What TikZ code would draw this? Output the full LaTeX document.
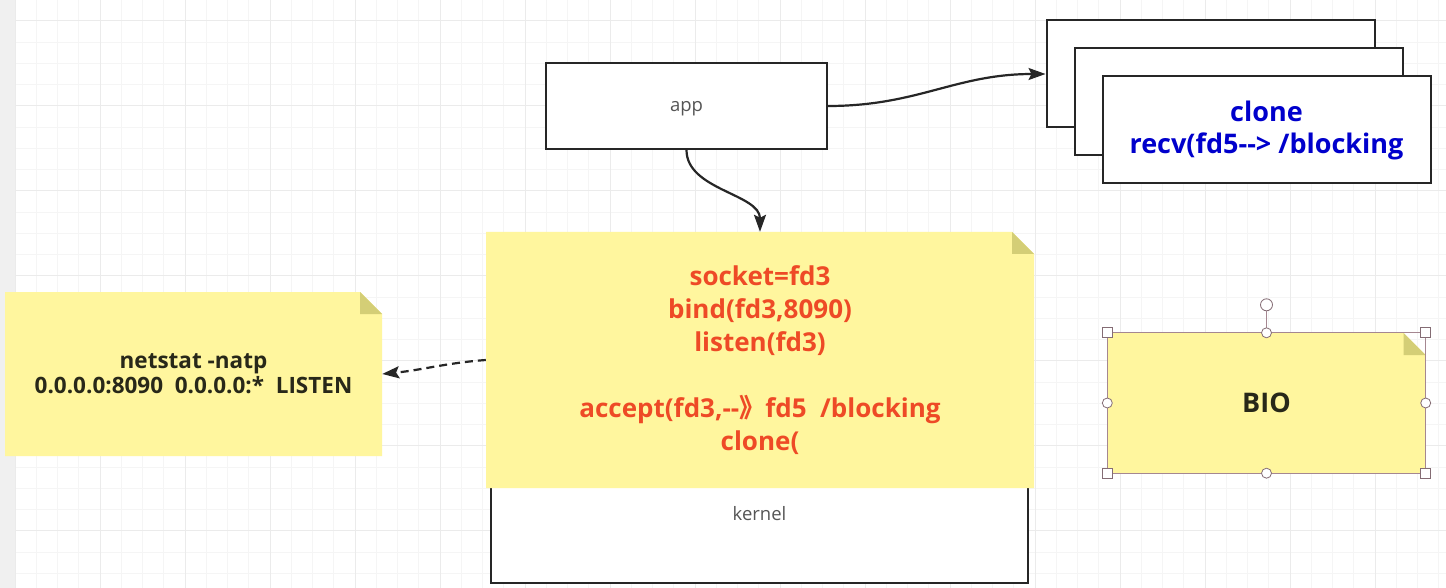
\documentclass[tikz,border=0pt]{standalone}
\usepackage{fontspec}
\setmainfont{Open Sans}
\newfontfamily\cjk{Noto Sans CJK SC}
\usetikzlibrary{positioning,arrows.meta,calc}
\definecolor{notefill}{RGB}{255,246,158}
\definecolor{notefold}{RGB}{212,206,118}
\definecolor{redtext}{RGB}{238,74,38}
\definecolor{bluetext}{RGB}{0,0,204}
\definecolor{darktext}{RGB}{40,40,25}
\definecolor{graytext}{RGB}{85,85,85}
\definecolor{selline}{RGB}{165,135,145}
\tikzset{
  gridthin/.style={draw=black!4, line width=0.8pt},
  gridthick/.style={draw=black!8, line width=1pt},
  box/.style={draw=black!85, line width=2pt, fill=white, inner sep=0pt},
  note/.style={inner sep=0pt, align=center, path picture={
      \fill[notefill] (path picture bounding box.south west) -- (path picture bounding box.south east)
        -- ([yshift=-22pt]path picture bounding box.north east) -- ([xshift=-22pt]path picture bounding box.north east)
        -- (path picture bounding box.north west) -- cycle;
      \fill[notefold] ([xshift=-22pt]path picture bounding box.north east)
        -- ([xshift=-22pt,yshift=-22pt]path picture bounding box.north east)
        -- ([yshift=-22pt]path picture bounding box.north east) -- cycle;}},
  flow/.style={draw=black!85, line width=2.2pt, -{Stealth[length=17pt, width=12pt, inset=3pt]}},
  hint/.style={flow, dash pattern=on 8pt off 5pt},
  sqhandle/.style={draw=selline!80!black, fill=white, line width=0.8pt, minimum size=10pt, inner sep=0pt},
  rdhandle/.style={sqhandle, circle}
}
\begin{document}
\begin{tikzpicture}[x=1pt, y=-1pt]
    \useasboundingbox[fill=white] (0,0) rectangle (1446,588);
    % grid paper
    \fill[black!6] (0,0) rectangle (15,588);
    \foreach \i in {0,...,67} \draw[gridthin] (15+21.25*\i,0) -- (15+21.25*\i,588);
    \foreach \j in {0,...,28} \draw[gridthin] (15,-0.5+21.25*\j) -- (1446,-0.5+21.25*\j);
    \foreach \i in {0,...,16} \draw[gridthick] (15+85*\i,0) -- (15+85*\i,588);
    \foreach \j in {0,...,6} \draw[gridthick] (15,20.75+85*\j) -- (1446,20.75+85*\j);

    \node[box, minimum width=537pt, minimum height=138pt, text=graytext, font=\fontsize{18.5}{22}\selectfont] (kernel) at (759.5,514) {kernel};
    \node[note, minimum width=548pt, minimum height=256pt, text=redtext, font=\bfseries\fontsize{26}{33}\selectfont] (calls) at (760,360)
      {socket=fd3\\bind(fd3,8090)\\listen(fd3)\\[33pt]accept(fd3,-{}-{\cjk 》}fd5~~/blocking\\clone(};
    \node[box, minimum width=281pt, minimum height=86pt, text=graytext, text depth=0pt, font=\fontsize{18.5}{22}\selectfont] (app) at (686.5,106) {app};

    \node[box, minimum width=328pt, minimum height=107pt] (t1) at (1210.5,74) {};
    \node[box, minimum width=328pt, minimum height=107pt] (t2) at ([shift={(28pt,-28pt)}]t1.center) {};
    \node[box, minimum width=328pt, minimum height=107pt, align=center, text=bluetext, font=\bfseries\fontsize{27}{32}\selectfont] (t3) at ([shift={(28pt,-28pt)}]t2.center)
      {clone\\recv(fd5-{}-> /blocking};

    \node[note, minimum width=377pt, minimum height=164pt, text=darktext, font=\bfseries\fontsize{22.5}{25}\selectfont] (netstat) at (193.5,374)
      {netstat -natp\\0.0.0.0:8090~~0.0.0.0:*~~LISTEN};

    \node[note, minimum width=318pt, minimum height=140pt, text=darktext, font=\bfseries\fontsize{27}{30}\selectfont] (bio) at (1266.5,403) {BIO};
    \coordinate[above=28pt of bio.north] (rot);
    \draw[selline, line width=0.8pt] (bio.south west) rectangle (bio.north east);
    \draw[selline, line width=1pt] (bio.north) -- (rot);
    \foreach \a in {north west, north east, south west, south east} \node[sqhandle] at (bio.\a) {};
    \foreach \a in {north, south, east, west} \node[rdhandle] at (bio.\a) {};
    \node[rdhandle, minimum size=12pt] at (rot) {};

    \draw[flow] (app.south) .. controls +(0,40) and +(0,-38) .. (calls.north);
    \draw[flow] (app.east) .. controls +(90,0) and +(-90,0) .. (t1.west);
    \draw[hint] (calls.west) .. controls +(-40,3) and +(40,-4) .. (netstat.east);
\end{tikzpicture}
\end{document}
